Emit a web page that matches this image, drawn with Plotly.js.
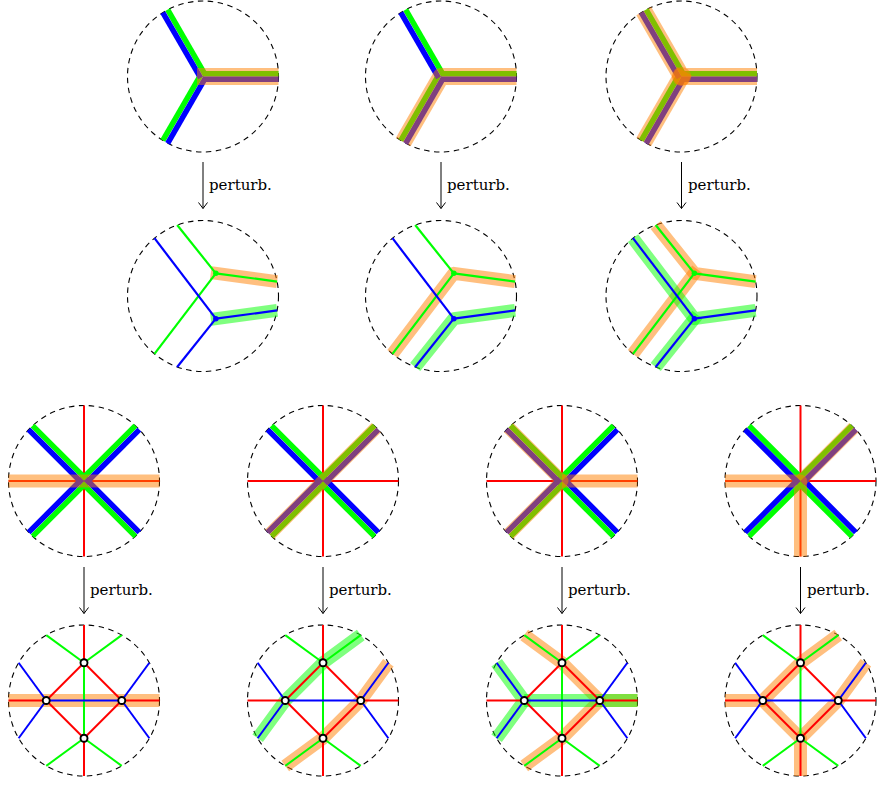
<!DOCTYPE html>
<html><head><meta charset="utf-8">
<script src="https://cdn.plot.ly/plotly-3.0.1.min.js"></script>
<style>body{margin:0;background:#fff}#chart{width:883px;height:785px}</style>
</head><body><div id="chart"></div>
<script>
// ================= DATA (unit-circle geometry) =================
// Row 1: unperturbed triple junction (arm angles in degrees)
const yArmAngles = [0, 120, 240];
const yArmGreenSide = [1, -1, -1];           // side of the doubled pair on which green sits
const yHighlight = [[['c',0]], [[0,'c',240]], [[0,'c',120],['c',240]]];
const yCenterDot = [false, false, true];
// Row 2: perturbed triple junctions
const greenJunction = [0.17, 0.30];
const greenArmAngles = [11, 110, 230];
const blueJunction = [0.17, -0.30];
const blueArmAngles = [-11, 130, 250];
const pyHighlight = [[['J',0]], [[0,'J',2]], [[0,'J',1],['J',2]]];
// Row 3: unperturbed 8-arm star
const starRedAngles = [0, 90, 180, 270];
const starDiagAngles = [45, 135, 225, 315];
const starGreenSide = [1, -1, 1, -1];
const starHighlight = [[[180,0]], [[45,225]], [[135,'c',225],['c',0]], [[180,'c',270],['c',45]]];
// Row 4: perturbed network, nodes and edges
const nodeNames = ['T','B','L','R'];
const nodeU = [0, 0, -0.5, 0.5];
const nodeV = [0.5, -0.5, 0, 0];
const redEdges   = [['T','L'],['T','R'],['B','L'],['B','R'],['T','a90'],['B','a270'],['L','a180'],['R','a0']];
const greenEdges = [['T','B'],['T','a60'],['T','a120'],['B','a240'],['B','a300']];
const blueEdges  = [['L','R'],['L','a150'],['L','a210'],['R','a30'],['R','a330']];
const netOrange = [[['a180','L','R','a0']], [['a30','R','B','a240']], [['a120','T','R','B','a240'],['R','a0']], [['a60','T','L','a180'],['L','B','a270'],['a30','R','B']]];
const netGreen  = [[], [['a60','T','L','a210']], [['a150','L','a210'],['L','R','a0']], []];
const arrowLabel = 'perturb.';

// ================= LAYOUT CONSTANTS =================
const R = 75.5;
const topCX = [203, 441, 681.5], topRowY = [76.5, 296];
const botCX = [84, 323, 562, 800.5], botRowY = [481, 700.5];
const GREEN='#00ff00', BLUE='#0000ff', RED='#ff0000';
const ORANGE_BAND='rgba(255,128,0,0.5)', GREEN_BAND='rgba(0,255,0,0.5)';

function dir(a){const t=a*Math.PI/180;return [Math.cos(t),Math.sin(t)];}
function px(cx,cy,u,v){return [cx+R*u, cy-R*v];}
function acc(){return {x:[],y:[]};}
function addPoly(a,pts){pts.forEach(p=>{a.x.push(p[0]);a.y.push(p[1]);});a.x.push(null);a.y.push(null);}

const A = {
  topGreen:acc(), topBlue:acc(), topBand:acc(), topDot:acc(),
  pyGreen:acc(), pyBlue:acc(), pyOrange:acc(), pyGreenBand:acc(), pyGDot:acc(), pyBDot:acc(),
  stRed:acc(), stGreen:acc(), stBlue:acc(), stBand:acc(),
  nRed:acc(), nGreen:acc(), nBlue:acc(), nOrange:acc(), nGreenBand:acc(), nNodes:acc(),
  arrows:acc()
};
const OFF = 2.8, TOPBANDW = 17, BANDW = 13;

// ---- Row 1
for(let i=0;i<3;i++){
  const cx=topCX[i], cy=topRowY[0];
  yArmAngles.forEach((ang,k)=>{
    const d=dir(ang), n=[-d[1],d[0]], s=yArmGreenSide[k];
    const ox=s*OFF*n[0], oy=-s*OFF*n[1];
    const e=px(cx,cy,d[0],d[1]);
    addPoly(A.topGreen,[[cx+ox,cy+oy],[e[0]+ox,e[1]+oy]]);
    addPoly(A.topBlue,[[cx-ox,cy-oy],[e[0]-ox,e[1]-oy]]);
  });
  yHighlight[i].forEach(path=>{
    const pts=path.map(t=>t==='c'?[cx,cy]:(d=>px(cx,cy,d[0],d[1]))(dir(t)));
    if(path[0]==='c'){const d=dir(path[1]);pts[0]=[cx-d[0]*6,cy+d[1]*6];}
    addPoly(A.topBand,pts);
  });
  if(yCenterDot[i]) addPoly(A.topDot,[[cx,cy]]);
}
// ---- Row 2
for(let i=0;i<3;i++){
  const cx=topCX[i], cy=topRowY[1];
  [[greenJunction,greenArmAngles,A.pyGreen,A.pyOrange,A.pyGDot],[blueJunction,blueArmAngles,A.pyBlue,A.pyGreenBand,A.pyBDot]].forEach(([J,angs,line,band,dot])=>{
    const jp=px(cx,cy,J[0],J[1]);
    const ends=angs.map(a=>{const d=dir(a);return px(cx,cy,d[0],d[1]);});
    ends.forEach(e=>addPoly(line,[jp,e]));
    addPoly(dot,[jp]);
    pyHighlight[i].forEach(path=>{
      const pts=path.map(t=>t==='J'?jp:ends[t]);
      if(path[0]==='J'){const e=ends[path[1]];const L=Math.hypot(e[0]-jp[0],e[1]-jp[1]);pts[0]=[jp[0]-(e[0]-jp[0])/L*5,jp[1]-(e[1]-jp[1])/L*5];}
      addPoly(band,pts);
    });
  });
}
// ---- Row 3
for(let i=0;i<4;i++){
  const cx=botCX[i], cy=botRowY[0];
  starRedAngles.forEach(a=>{const d=dir(a);addPoly(A.stRed,[[cx,cy],px(cx,cy,d[0],d[1])]);});
  starDiagAngles.forEach((a,k)=>{
    const d=dir(a), n=[-d[1],d[0]], s=starGreenSide[k];
    const ox=s*OFF*n[0], oy=-s*OFF*n[1];
    const e=px(cx,cy,d[0],d[1]);
    addPoly(A.stGreen,[[cx+ox,cy+oy],[e[0]+ox,e[1]+oy]]);
    addPoly(A.stBlue,[[cx-ox,cy-oy],[e[0]-ox,e[1]-oy]]);
  });
  starHighlight[i].forEach(path=>{
    addPoly(A.stBand,path.map(t=>t==='c'?[cx,cy]:(d=>px(cx,cy,d[0],d[1]))(dir(t))));
  });
}
// ---- Row 4
for(let i=0;i<4;i++){
  const cx=botCX[i], cy=botRowY[1];
  const pt=t=>{
    const k=nodeNames.indexOf(t);
    if(k>=0) return px(cx,cy,nodeU[k],nodeV[k]);
    const d=dir(parseFloat(t.slice(1)));return px(cx,cy,d[0],d[1]);
  };
  redEdges.forEach(e=>addPoly(A.nRed,e.map(pt)));
  greenEdges.forEach(e=>addPoly(A.nGreen,e.map(pt)));
  blueEdges.forEach(e=>addPoly(A.nBlue,e.map(pt)));
  netOrange[i].forEach(p=>addPoly(A.nOrange,p.map(pt)));
  netGreen[i].forEach(p=>addPoly(A.nGreenBand,p.map(pt)));
  nodeNames.forEach(nm=>addPoly(A.nNodes,[pt(nm)]));
}
// ---- arrows
const annotations=[];
function arrow(x,y0,y1){
  addPoly(A.arrows,[[x,y0],[x,y1]]);
  addPoly(A.arrows,[[x-4.5,y1-6],[x,y1],[x+4.5,y1-6]]);
  annotations.push({x:x+4,y:(y0+y1)/2,xref:'x',yref:'y',text:arrowLabel,showarrow:false,xanchor:'left',yanchor:'middle',
    font:{family:'DejaVu Serif',size:15,color:'#000'}});
}
topCX.forEach(x=>arrow(x,162,208.5));
botCX.forEach(x=>arrow(x,567,613.5));

// ---- traces
function L(a,color,width,extra){return Object.assign({type:'scatter',mode:'lines',x:a.x,y:a.y,line:{color:color,width:width},hoverinfo:'skip',connectgaps:false},extra||{});}
function M(a,size,color,lc,lw){return {type:'scatter',mode:'markers',x:a.x,y:a.y,hoverinfo:'skip',marker:{size:size,color:color,line:{color:lc||color,width:lw||0}}};}
const traces=[
  L(A.pyOrange,ORANGE_BAND,BANDW), L(A.pyGreenBand,GREEN_BAND,BANDW),
  L(A.nOrange,ORANGE_BAND,BANDW), L(A.nGreenBand,GREEN_BAND,BANDW),
  L(A.topGreen,GREEN,5.5), L(A.topBlue,BLUE,5.5),
  L(A.pyGreen,GREEN,2.2), L(A.pyBlue,BLUE,2.2),
  L(A.stRed,RED,2), L(A.stGreen,GREEN,5.5), L(A.stBlue,BLUE,5.5),
  L(A.nRed,RED,2), L(A.nGreen,GREEN,2), L(A.nBlue,BLUE,2),
  L(A.topBand,ORANGE_BAND,TOPBANDW), L(A.stBand,ORANGE_BAND,BANDW),
  M(A.topDot,19,ORANGE_BAND),
  M(A.pyGDot,5.5,GREEN), M(A.pyBDot,5.5,BLUE),
  M(A.nNodes,7,'#ffffff','#000000',1.9),
  L(A.arrows,'#000',1)
];
const shapes=[];
[[topCX,topRowY],[botCX,botRowY]].forEach(([xs,ys])=>ys.forEach(cy=>xs.forEach(cx=>{
  shapes.push({type:'circle',xref:'x',yref:'y',x0:cx-R,x1:cx+R,y0:cy-R,y1:cy+R,layer:'below',
    line:{color:'#000',width:1.1,dash:'5.5px,4.5px'}});
})));
const layout={width:883,height:785,margin:{l:0,r:0,t:0,b:0},showlegend:false,
  paper_bgcolor:'#fff',plot_bgcolor:'#fff',
  xaxis:{range:[0,883],visible:false,fixedrange:true},
  yaxis:{range:[785,0],visible:false,fixedrange:true},
  shapes:shapes,annotations:annotations};
Plotly.newPlot('chart',traces,layout,{staticPlot:true}).then(()=>{
  document.querySelectorAll('path.js-line').forEach(p=>{p.style.strokeLinejoin='round';});
});
</script></body></html>
